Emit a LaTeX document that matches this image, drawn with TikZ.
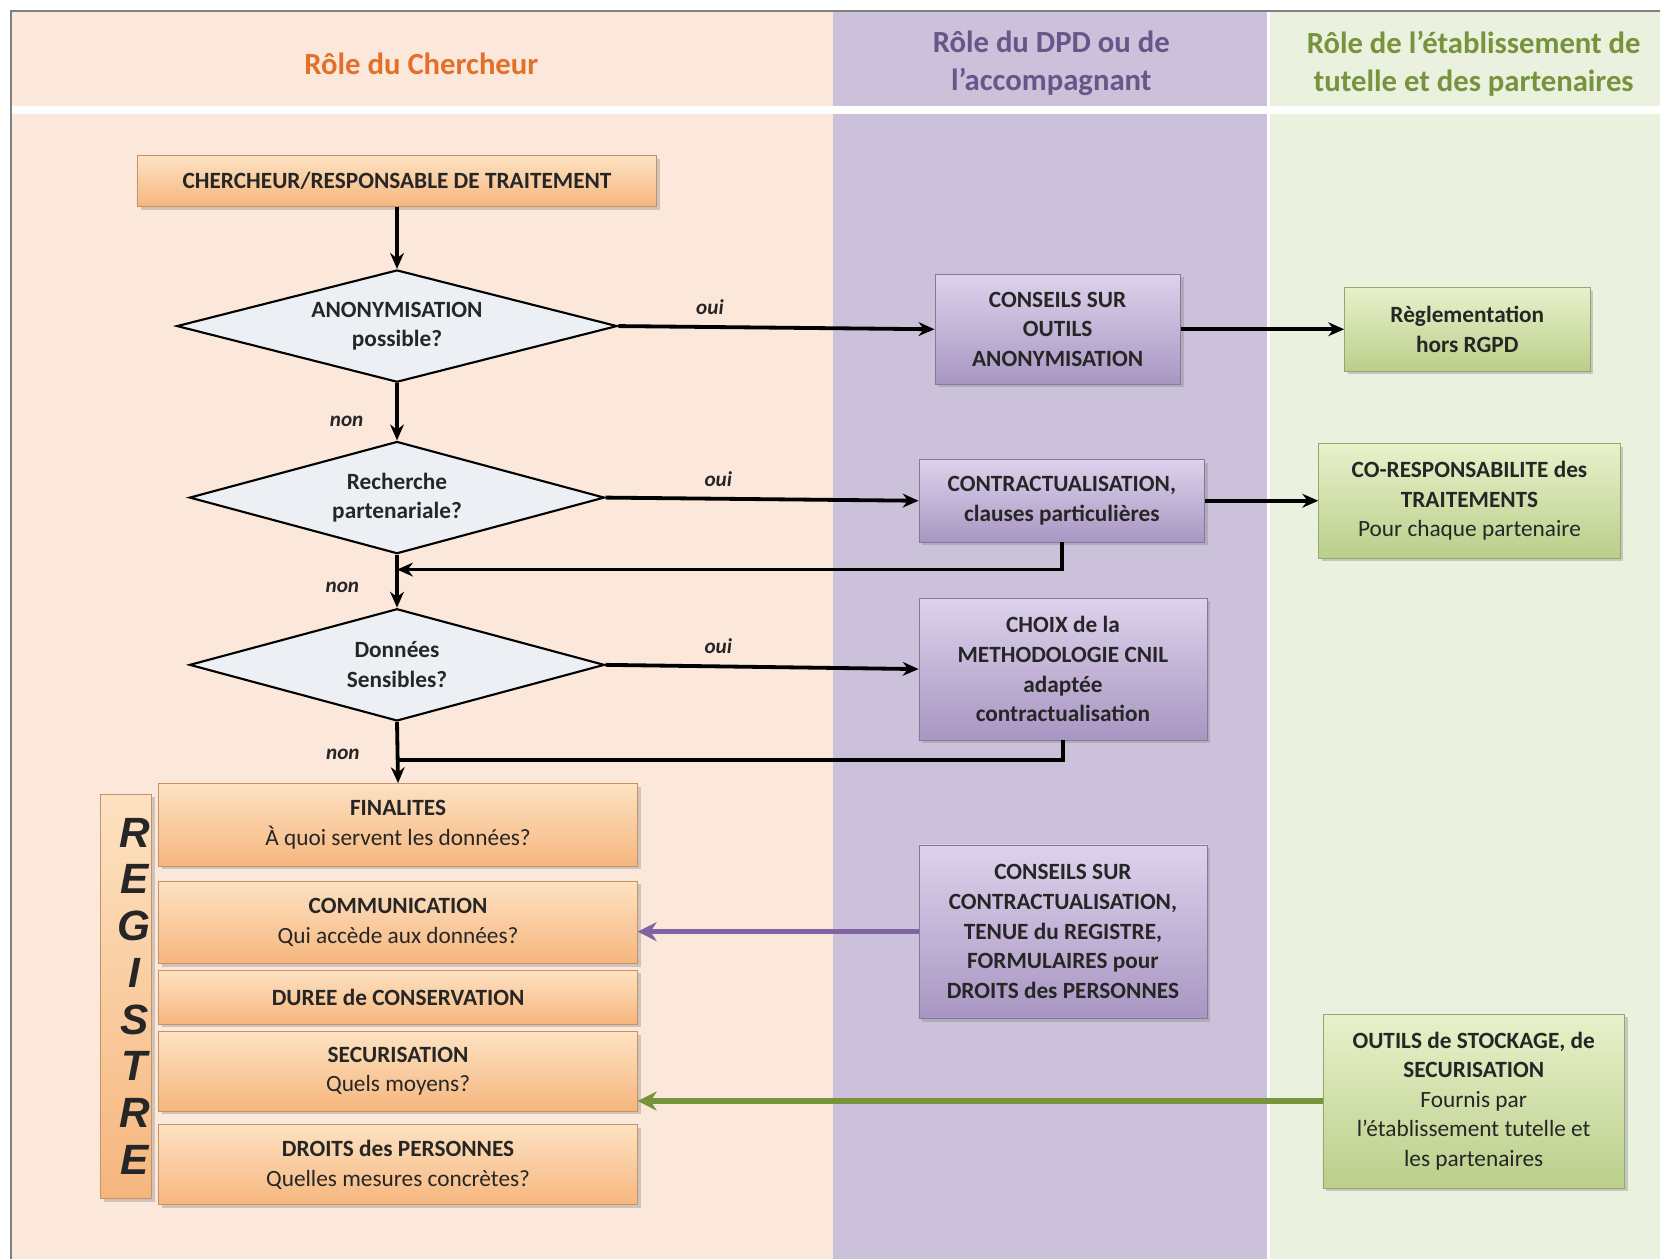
\documentclass[tikz,border=0pt]{standalone}
\usepackage{fontspec}
\setmainfont{Carlito}
\newfontfamily\regfont{Liberation Sans}
\usetikzlibrary{shapes.geometric,arrows.meta,shadows}

\definecolor{bgOrange}{HTML}{FCE8DA}
\definecolor{bgPurple}{HTML}{CCC1DA}
\definecolor{bgGreen}{HTML}{EBF1DF}
\definecolor{txtOrange}{HTML}{E2702A}
\definecolor{txtPurple}{HTML}{66578A}
\definecolor{txtGreen}{HTML}{77933C}
\definecolor{boxOrangeTop}{HTML}{FDE2C2}
\definecolor{boxOrangeBot}{HTML}{F6B67E}
\definecolor{boxPurpleTop}{HTML}{DDD2EC}
\definecolor{boxPurpleBot}{HTML}{A896C2}
\definecolor{boxGreenTop}{HTML}{E8F1CB}
\definecolor{boxGreenBot}{HTML}{BACF8A}
\definecolor{arrPurple}{HTML}{8064A2}
\definecolor{arrGreen}{HTML}{77933C}
\definecolor{decFill}{HTML}{ECEFF4}

\newcommand\sub[1]{{\mdseries #1}}

\tikzset{
  box/.style={align=center, inner sep=2pt, text=black!85,
    font=\fontsize{11}{14}\selectfont\bfseries,
    drop shadow={opacity=.35, shadow xshift=1.5pt, shadow yshift=-1.5pt}},
  orangebox/.style={box, top color=boxOrangeTop, bottom color=boxOrangeBot, draw=boxOrangeBot!80!black, line width=.3pt},
  purplebox/.style={box, top color=boxPurpleTop, bottom color=boxPurpleBot, draw=boxPurpleBot!80!black, line width=.3pt},
  greenbox/.style={box, top color=boxGreenTop, bottom color=boxGreenBot, draw=boxGreenBot!80!black, line width=.3pt},
  decision/.style={diamond, aspect=4, inner sep=0pt, draw=black, line width=1pt, fill=decFill, align=center,
    font=\fontsize{11}{14}\selectfont\bfseries, text=black!85},
  flow/.style={-{Stealth[length=7.5pt,width=6.5pt]}, line width=1.8pt},
  joinline/.style={line width=1.8pt},
  lbl/.style={font=\fontsize{10}{12}\selectfont\bfseries\itshape, text=black!85, inner sep=1pt},
  title/.style={align=center, font=\fontsize{14.5}{18}\selectfont\bfseries},
  regletters/.style={align=center, inner sep=0pt, text=black!85, font=\regfont\fontsize{20}{22.1}\selectfont\bfseries\itshape}
}

\begin{document}
\begin{tikzpicture}[x=0.5pt,y=-0.5pt]
\useasboundingbox (0,0) rectangle (1568,1189);
% bandes
\fill[white] (0,0) rectangle (1568,1189);
\fill[bgOrange] (10,10) rectangle (787,1189);
\fill[bgPurple] (787,10) rectangle (1198,1189);
\fill[bgGreen] (1199,10) rectangle (1568,1189);
\fill[white] (1197,10) rectangle (1200,1189);
\fill[white] (10,100) rectangle (1568,108);
\draw[gray, line width=1pt] (10,1189) -- (10,10) -- (1568,10);

\node[title, text=txtOrange] (h1) at (398,60) {Rôle du Chercheur};
\node[title, text=txtPurple] (h2) at (993,60) {Rôle du DPD ou de\\l’accompagnant};
\node[title, text=txtGreen] (h3) at (1392,60) {Rôle de l’établissement de\\tutelle et des partenaires};

% colonne chercheur
\node[orangebox, minimum width=245pt, minimum height=24pt] (top) at (375,171) {CHERCHEUR/RESPONSABLE DE TRAITEMENT};
\node[decision, minimum width=208pt, minimum height=53pt] (d1) at (375,308) {ANONYMISATION\\possible?};
\node[decision, minimum width=196pt, minimum height=53pt] (d2) at (375,470) {Recherche\\partenariale?};
\node[decision, minimum width=196pt, minimum height=53pt] (d3) at (375,628) {Données\\Sensibles?};

\node[orangebox, minimum width=226pt, minimum height=39pt] (r1) at (376,779) {FINALITES\\\sub{À quoi servent les données?}};
\node[orangebox, minimum width=226pt, minimum height=39pt] (r2) at (376,871) {COMMUNICATION\\\sub{Qui accède aux données?}};
\node[orangebox, minimum width=226pt, minimum height=25.5pt] (r3) at (376,942) {DUREE de CONSERVATION};
\node[orangebox, minimum width=226pt, minimum height=37.5pt] (r4) at (376,1012) {SECURISATION\\\sub{Quels moyens?}};
\node[orangebox, minimum width=226pt, minimum height=38pt] (r5) at (376,1100) {DROITS des PERSONNES\\\sub{Quelles mesures concrètes?}};
\node[orangebox, minimum width=24pt, minimum height=191pt, inner sep=0pt] (reg) at (119,941) {};
\node[regletters, xshift=4pt] (regtxt) at (reg) {R\\E\\G\\I\\S\\T\\R\\E};

% colonne DPD
\node[purplebox, minimum width=116pt, minimum height=52pt] (c1) at (999,311) {CONSEILS SUR\\OUTILS\\ANONYMISATION};
\node[purplebox, minimum width=135pt, minimum height=39pt] (c2) at (1003,473) {CONTRACTUALISATION,\\clauses particulières};
\node[purplebox, minimum width=136pt, minimum height=67pt] (c3) at (1004,632) {CHOIX de la\\METHODOLOGIE CNIL\\adaptée\\contractualisation};
\node[purplebox, minimum width=136pt, minimum height=82pt] (c4) at (1004,880) {CONSEILS SUR\\CONTRACTUALISATION,\\TENUE du REGISTRE,\\FORMULAIRES pour\\DROITS des PERSONNES};

% colonne etablissement
\node[greenbox, minimum width=116pt, minimum height=39.5pt] (g1) at (1386,311) {Règlementation\\hors RGPD};
\node[greenbox, minimum width=142.5pt, minimum height=54pt] (g2) at (1388,473) {CO-RESPONSABILITE des\\TRAITEMENTS\\\sub{Pour chaque partenaire}};
\node[greenbox, minimum width=142.5pt, minimum height=82pt] (g3) at (1392,1040) {OUTILS de STOCKAGE, de\\SECURISATION\\\sub{Fournis par}\\\sub{l’établissement tutelle et}\\\sub{les partenaires}};

\coordinate (j1) at (375,538);
\coordinate (j2) at (375,718);

% liens
\draw[flow] (top) -- (d1);
\draw[flow] (d1.east) -- node[lbl, pos=.29, above=4pt] (oui1) {oui} (c1.west);
\draw[flow] (c1) -- (g1);
\draw[flow] (d1.south) -- node[lbl, pos=.67, left=14pt] (non1) {non} (d2.north);
\draw[flow] (d2.east) -- node[lbl, pos=.36, above=4pt] (oui2) {oui} (c2.west);
\draw[flow] (c2) -- (g2);
\draw[flow] (c2.south) |- (j1);
\draw[flow] (d2.south) -- node[lbl, pos=.62, left=16pt] (non2) {non} (d3.north);
\draw[flow] (d3.east) -- node[lbl, pos=.36, above=4pt] (oui3) {oui} (c3.west);
\draw[joinline] (c3.south) |- (j2);
\draw[flow] (d3.south) -- node[lbl, pos=.53, left=16pt] (non3) {non} (r1.north);
\draw[-{Stealth[length=9pt,width=9pt]}, line width=2.5pt, arrPurple] (c4.west) -- (c4.west -| r2.east);
\draw[-{Stealth[length=9pt,width=9pt]}, line width=2.5pt, arrGreen] (g3.west) -- (g3.west -| r4.east);
\end{tikzpicture}
\end{document}
